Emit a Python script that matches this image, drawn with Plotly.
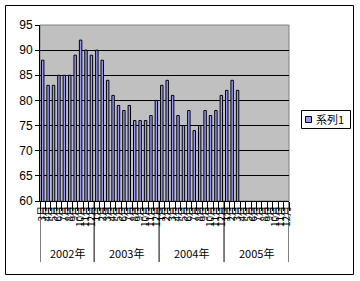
import plotly.graph_objects as go

years = ["2002年", "2003年", "2004年", "2005年"]
year_months = [list(range(3, 13)), list(range(1, 13)), list(range(1, 13)), list(range(1, 13))]
values = [88, 83, 83, 85, 85, 85, 89, 92, 90, 89,
          90, 88, 84, 81, 79, 78, 79, 76, 76, 76, 77, 80,
          83, 84, 81, 77, 75, 78, 74, 75, 78, 77, 78, 81,
          82, 84, 82] + [None] * 9
series_name = "系列1"
y_ticks = [60, 65, 70, 75, 80, 85, 90, 95]

# build category keys & labels from the lists above
cat_keys, cat_labels, year_spans = [], [], []
for yname, mlist in zip(years, year_months):
    start = len(cat_keys)
    for m in mlist:
        cat_keys.append(f"{yname[:4]}-{m:02d}")
        cat_labels.append(f"{m}月")
    year_spans.append((yname, start, len(cat_keys) - 1))

L, R, T, B = 40, 289, 25, 201
W, H = 360, 281

def px_x(p):
    return (p - L) / (R - L)

def px_y(p):
    return (B - p) / (B - T)

BAR_COLOR = "#9999FF"

fig = go.Figure()
fig.add_trace(go.Bar(
    x=cat_keys, y=values, name=series_name,
    marker=dict(color=BAR_COLOR, line=dict(color="#000000", width=1)),
    showlegend=False,
))

shapes = [
    dict(type="rect", xref="paper", yref="paper", x0=0, x1=1, y0=0, y1=1,
         line=dict(color="#808080", width=1), layer="below"),
    dict(type="rect", xref="paper", yref="paper",
         x0=px_x(5.5), x1=px_x(353.5), y0=px_y(5.5), y1=px_y(274.5),
         line=dict(color="black", width=1)),
]
annotations = []
for yname, s, e in year_spans:
    shapes.append(dict(type="line", xref="x", yref="paper", x0=s - 0.5, x1=s - 0.5,
                       y0=0, y1=px_y(262), line=dict(color="black", width=1)))
    annotations.append(dict(x=(s + e) / 2, y=px_y(253), xref="x", yref="paper",
                            text=yname, showarrow=False, xanchor="center", yanchor="middle",
                            font=dict(size=11, family="Noto Sans CJK JP", color="black")))
shapes.append(dict(type="line", xref="x", yref="paper", x0=len(cat_keys) - 0.5,
                   x1=len(cat_keys) - 0.5, y0=0, y1=px_y(262),
                   line=dict(color="black", width=1)))

# legend box
shapes.append(dict(type="rect", xref="paper", yref="paper",
                   x0=px_x(301.5), x1=px_x(350.5), y0=px_y(110.5), y1=px_y(128.5),
                   line=dict(color="black", width=1), fillcolor="white"))
shapes.append(dict(type="rect", xref="paper", yref="paper",
                   x0=px_x(305.5), x1=px_x(311.5), y0=px_y(116.5), y1=px_y(122.5),
                   line=dict(color="black", width=1), fillcolor=BAR_COLOR))
annotations.append(dict(x=px_x(314), y=px_y(119.5), xref="paper", yref="paper",
                        text=series_name, showarrow=False, xanchor="left", yanchor="middle",
                        font=dict(size=11, family="Noto Sans CJK JP", color="black")))

fig.update_layout(
    width=W, height=H,
    margin=dict(l=L, r=W - R, t=T, b=H - B, autoexpand=False),
    paper_bgcolor="white", plot_bgcolor="#C0C0C0",
    bargap=0.55,
    font=dict(family="Noto Sans CJK JP", size=11, color="black"),
    showlegend=False,
    xaxis=dict(
        type="category", categoryorder="array", categoryarray=cat_keys,
        range=[-0.5, len(cat_keys) - 0.5],
        tickvals=cat_keys, ticktext=cat_labels,
        showgrid=False,
        showline=True, linecolor="black", linewidth=1,
        ticks="outside", tickson="boundaries", ticklen=9, tickcolor="black",
        tickangle=-90, tickfont=dict(size=10, family="Noto Sans CJK JP"),
        automargin=False,
    ),
    yaxis=dict(
        range=[60, 95], tickvals=y_ticks, ticktext=[str(v) for v in y_ticks],
        showgrid=True, gridcolor="black", gridwidth=1,
        showline=True, linecolor="black", linewidth=1,
        ticks="outside", ticklen=4, tickcolor="black",
        tickfont=dict(size=12, family="Liberation Sans"),
        zeroline=False, automargin=False,
    ),
    shapes=shapes,
    annotations=annotations,
)

fig.write_html("out.html")
